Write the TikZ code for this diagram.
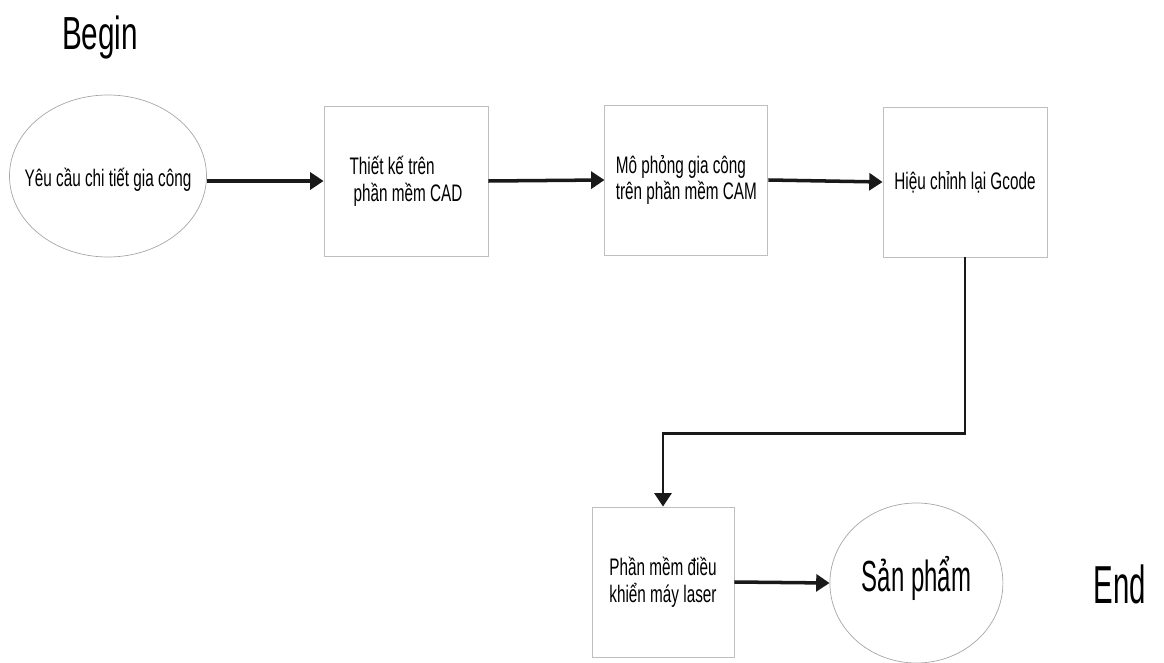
\documentclass[tikz,border=0pt]{standalone}
\usepackage{fontspec}
\setmainfont[FakeStretch=0.64]{Liberation Sans}
\newfontfamily\tallfont[FakeStretch=0.55]{Liberation Sans}
\usetikzlibrary{shapes.geometric,arrows.meta}

\begin{document}
\begin{tikzpicture}[
    >={Triangle[length=9.5pt,width=12pt]},
    font=\fontsize{17}{19}\selectfont,
    box/.style={rectangle, draw=black!25, line width=0.6pt, align=left},
    oval/.style={ellipse, draw=black!35, line width=0.5pt, inner sep=0pt},
    flow/.style={->, line width=2.5pt, draw=black!90},
    bigtext/.style={font=\fontsize{33}{36}\selectfont}
]

    % frame of the page
    \useasboundingbox (0,0) rectangle (29.1,-16.575);

    % 1. Begin and request
    \node[bigtext] (begin) at (2.5,-0.95) {Begin};
    \node[oval, minimum width=4.925cm, minimum height=4.05cm] (yc) at (2.7,-4.4) {};
    \node (yctext) at (2.7,-4.5) {Yêu cầu chi tiết gia công};

    % 2. Software steps
    \node[box, minimum width=4.1cm, minimum height=3.75cm] (cad) at (10.15,-4.525) {Thiết kế trên\\[0pt] \,phần mềm CAD};
    \node[box, minimum width=4.075cm, minimum height=3.75cm] (cam) at (17.16,-4.5) {Mô phỏng gia công\\trên phần mềm CAM};
    \node[box, minimum width=4.1cm, minimum height=3.75cm] (gcode) at (24.125,-4.55) {Hiệu chỉnh lại Gcode};

    % 3. Laser machine and product
    \node[box, minimum width=3.55cm, minimum height=3.75cm] (laser) at (16.575,-14.55) {Phần mềm điều\\khiển máy laser};
    \node[oval, minimum width=4.325cm, minimum height=4.0cm] (sp) at (22.91,-14.575) {};
    \node[font=\tallfont\fontsize{31}{34}\selectfont] (sptext) at (22.91,-14.45) {Sản phẩm};
    \node[font=\tallfont\fontsize{38}{42}\selectfont] (end) at (28.0,-14.6) {End};

    % Arrows
    \draw[flow] (cad.west -| yc.east) -- (cad.west);
    \draw[flow] (cad.east) -- (cam.west);
    \draw[flow] (cam.east) -- (gcode.west);
    \draw[flow, line width=2pt] (gcode.south) -- ++(0,-4.4) -| (laser.north);
    \draw[flow] (laser.east) -- (sp.west);

\end{tikzpicture}
\end{document}
